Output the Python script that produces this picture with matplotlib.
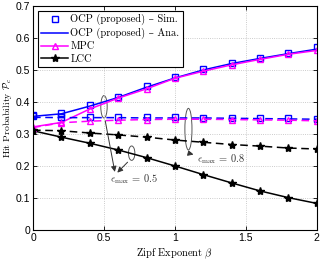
import numpy as np
import matplotlib
matplotlib.use("Agg")
import matplotlib.pyplot as plt
from matplotlib.patches import Ellipse

plt.rcParams['mathtext.fontset'] = 'cm'

beta = [0, 0.2, 0.4, 0.6, 0.8, 1.0, 1.2, 1.4, 1.6, 1.8, 2.0]

# eps_max = 0.5 (solid)
ocp_sim_05 = [0.359, 0.367, 0.390, 0.417, 0.450, 0.478, 0.503, 0.523, 0.536, 0.554, 0.573]
ocp_ana_05 = [0.355, 0.363, 0.387, 0.414, 0.446, 0.475, 0.500, 0.520, 0.536, 0.551, 0.565]
mpc_05 = [0.322, 0.336, 0.378, 0.412, 0.441, 0.474, 0.496, 0.516, 0.533, 0.549, 0.561]
lcc_05 = [0.310, 0.290, 0.271, 0.250, 0.226, 0.200, 0.173, 0.147, 0.122, 0.101, 0.083]

# eps_max = 0.8 (dashed)
ocp_sim_08 = [0.356, 0.352, 0.352, 0.352, 0.352, 0.352, 0.351, 0.350, 0.350, 0.349, 0.347]
ocp_ana_08 = [0.352, 0.351, 0.351, 0.351, 0.350, 0.350, 0.350, 0.349, 0.348, 0.347, 0.346]
mpc_08 = [0.320, 0.335, 0.340, 0.343, 0.345, 0.346, 0.346, 0.345, 0.344, 0.343, 0.341]
lcc_08 = [0.312, 0.310, 0.303, 0.297, 0.290, 0.281, 0.274, 0.267, 0.262, 0.256, 0.253]

serif = ['cmr10', 'DejaVu Serif']

fig = plt.figure(figsize=(3.27, 2.63), dpi=100)
ax = fig.add_axes([0.101, 0.1255, 0.868, 0.852])

ms = 4.5
for ls, ocp_sim, ocp_ana, mpc, lcc in [('-', ocp_sim_05, ocp_ana_05, mpc_05, lcc_05),
                                      ((0, (5, 3)), ocp_sim_08, ocp_ana_08, mpc_08, lcc_08)]:
    ax.plot(beta, ocp_sim, ls='none', marker='s', mfc='none', mec='#0000ff', ms=ms, mew=1.0)
    ax.plot(beta, ocp_ana, ls=ls, color='#0000ff', lw=1.1)
    ax.plot(beta, mpc, ls=ls, color='#ff00ff', lw=1.1, marker='^', mfc='none', mec='#ff00ff', ms=ms + 0.5, mew=1.0)
    ax.plot(beta, lcc, ls=ls, color='black', lw=1.1, marker='*', ms=ms + 1.5)

# legend handles
h1, = ax.plot([], [], ls='none', marker='s', mfc='none', mec='#0000ff', ms=ms, mew=1.0)
h2, = ax.plot([], [], ls='-', color='#0000ff', lw=1.1)
h3, = ax.plot([], [], ls='-', color='#ff00ff', lw=1.1, marker='^', mfc='none', mec='#ff00ff', ms=ms + 0.5, mew=1.0)
h4, = ax.plot([], [], ls='-', color='black', lw=1.1, marker='*', ms=ms + 1.5)
leg = ax.legend([h1, h2, h3, h4],
                ['OCP (proposed) – Sim.', 'OCP (proposed) – Ana.', 'MPC', 'LCC'],
                loc='upper left', bbox_to_anchor=(0.018, 0.977), fancybox=False,
                framealpha=1, edgecolor='black', prop={'family': serif, 'size': 7.5},
                handlelength=2.6, handletextpad=0.2, borderpad=0.3, labelspacing=0.25,
                borderaxespad=0)
leg.get_frame().set_linewidth(0.8)

# annotations
ell_kw = dict(fill=False, edgecolor='#555555', lw=0.7)
ax.add_patch(Ellipse((0.5, 0.385), 0.045, 0.07, **ell_kw))
ax.add_patch(Ellipse((0.695, 0.24), 0.045, 0.045, **ell_kw))
ax.add_patch(Ellipse((1.095, 0.315), 0.05, 0.13, **ell_kw))
arr = dict(arrowstyle='-|>', color='#333333', lw=0.7, mutation_scale=8)
ax.annotate('', xy=(0.58, 0.173), xytext=(0.505, 0.35), arrowprops=arr)
ax.annotate('', xy=(0.58, 0.173), xytext=(0.68, 0.218), arrowprops=arr)
ax.annotate('', xy=(1.15, 0.235), xytext=(1.1, 0.25),
            arrowprops=dict(arrowstyle='-|>', color='#333333', lw=0.7, mutation_scale=8,
                            connectionstyle='arc3,rad=0.4'))
ax.text(0.54, 0.158, r'$\epsilon_{\max}$ = 0.5', family=serif, fontsize=7.5, color='#333333', va='center')
ax.text(1.155, 0.222, r'$\epsilon_{\max}$ = 0.8', family=serif, fontsize=7.5, color='#333333', va='center')

ax.set_xlim(0, 2)
ax.set_ylim(0, 0.7)
ax.set_xticks([0, 0.5, 1, 1.5, 2])
ax.set_xticklabels(['0', '0.5', '1', '1.5', '2'])
ax.set_yticks([0, 0.1, 0.2, 0.3, 0.4, 0.5, 0.6, 0.7])
ax.set_yticklabels(['0', '0.1', '0.2', '0.3', '0.4', '0.5', '0.6', '0.7'])
ax.tick_params(direction='in', length=3, width=0.6, labelsize=7.5, pad=2, top=True, right=True)
for lab in ax.get_xticklabels() + ax.get_yticklabels():
    lab.set_family('Liberation Sans')
ax.grid(True, ls=':', color='#bbbbbb', lw=0.6)
for s in ax.spines.values():
    s.set_linewidth(0.8)

ax.set_xlabel(r'Zipf Exponent $\beta$', family=serif, fontsize=7.5, labelpad=3)
ax.set_ylabel(r'Hit Probability $\mathcal{P}_c$', family=serif, fontsize=7, labelpad=1)

fig.savefig('out.png', dpi=100)
